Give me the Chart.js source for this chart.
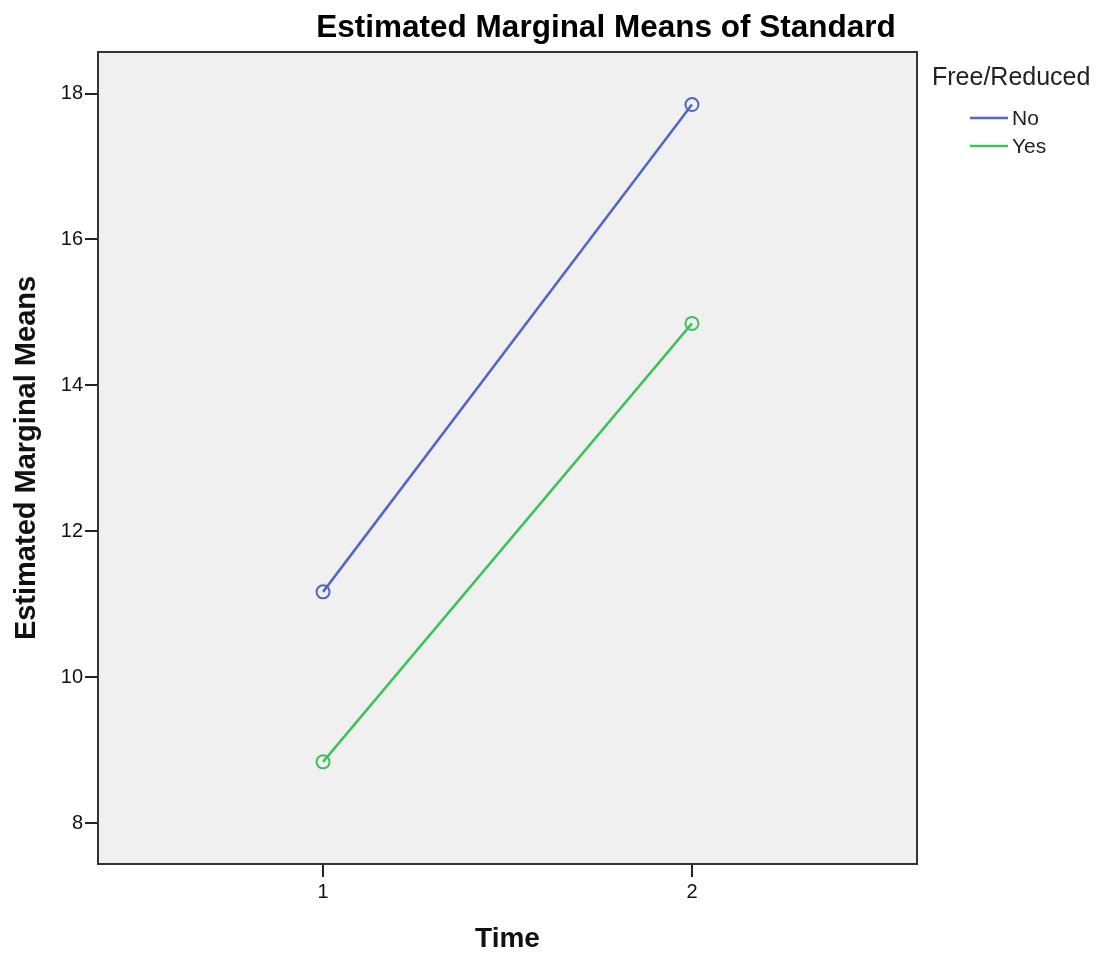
<!DOCTYPE html>
<html>
<head>
<meta charset="utf-8">
<script src="https://cdn.jsdelivr.net/npm/chart.js@4.4.1/dist/chart.umd.min.js"></script>
<style>
  html, body { margin: 0; padding: 0; background: #fff; }
  #wrap { width: 1099px; height: 958px; position: relative; }
</style>
</head>
<body>
<div id="wrap"><canvas id="c" width="1099" height="958"></canvas></div>
<script>
// ---- data ----
const chartTitle = "Estimated Marginal Means of Standard";
const legendTitle = "Free/Reduced";
const timePoints = [1, 2];
const seriesNames = ["No", "Yes"];
const noValues = [11.17, 17.85];
const yesValues = [8.84, 14.85];
const yTickValues = [8, 10, 12, 14, 16, 18];
const xTickValues = [1, 2];
const seriesColors = ["#5266c4", "#3ec159"];

const FONT = "'Liberation Sans', Arial, sans-serif";

function toPoints(vals) {
  return timePoints.map((t, i) => ({ x: t, y: vals[i] }));
}

const plotFrame = {
  id: 'plotFrame',
  beforeDraw(chart) {
    const a = chart.chartArea, ctx = chart.ctx;
    ctx.save();
    ctx.fillStyle = '#f0f0f0';
    ctx.fillRect(a.left, a.top, a.right - a.left, a.bottom - a.top);
    ctx.restore();
  },
  afterDraw(chart) {
    const a = chart.chartArea, ctx = chart.ctx;
    ctx.save();
    ctx.strokeStyle = '#333';
    ctx.lineWidth = 2;
    ctx.strokeRect(a.left, a.top, a.right - a.left, a.bottom - a.top);
    // title
    ctx.fillStyle = '#000';
    ctx.font = "bold 31.5px " + FONT;
    ctx.textAlign = 'center';
    ctx.textBaseline = 'middle';
    ctx.fillText(chartTitle, 606, 28);
    // legend
    ctx.font = "25px " + FONT;
    ctx.textAlign = 'left';
    ctx.fillStyle = '#222';
    ctx.fillText(legendTitle, 932, 78);
    ctx.font = "21px " + FONT;
    chart.data.datasets.forEach((ds, i) => {
      const y = 118 + i * 28;
      ctx.strokeStyle = ds.borderColor;
      ctx.lineWidth = 2.5;
      ctx.beginPath();
      ctx.moveTo(970, y);
      ctx.lineTo(1008, y);
      ctx.stroke();
      ctx.fillStyle = '#222';
      ctx.fillText(ds.label, 1012, y + 1);
    });
    ctx.restore();
  }
};

new Chart(document.getElementById('c'), {
  type: 'line',
  data: {
    datasets: [
      { label: seriesNames[0], data: toPoints(noValues), borderColor: seriesColors[0], backgroundColor: 'transparent',
        borderWidth: 2.5, pointRadius: 6.5, pointBorderWidth: 2, pointBackgroundColor: 'transparent', pointBorderColor: seriesColors[0] },
      { label: seriesNames[1], data: toPoints(yesValues), borderColor: seriesColors[1], backgroundColor: 'transparent',
        borderWidth: 2.5, pointRadius: 6.5, pointBorderWidth: 2, pointBackgroundColor: 'transparent', pointBorderColor: seriesColors[1] }
    ]
  },
  options: {
    responsive: false,
    animation: false,
    layout: { padding: { left: 0, right: 182, top: 52, bottom: 0 } },
    plugins: { legend: { display: false }, title: { display: false }, tooltip: { enabled: false } },
    scales: {
      x: {
        type: 'linear',
        min: 0.39, max: 2.61,
        afterFit(s) { s.height = 94; },
        afterBuildTicks(s) { s.ticks = xTickValues.map(v => ({ value: v })); },
        grid: { display: true, drawOnChartArea: false, drawTicks: true, tickLength: 13, color: '#222', lineWidth: 2 },
        border: { display: false },
        ticks: { font: { family: FONT, size: 20 }, color: '#111', padding: 3, callback: v => String(v) },
        title: { display: true, text: 'Time', font: { family: FONT, size: 28, weight: 'bold' }, color: '#111', padding: { top: 0, bottom: 2 } }
      },
      y: {
        type: 'linear',
        min: 7.44, max: 18.57,
        afterFit(s) { s.width = 98; },
        afterBuildTicks(s) { s.ticks = yTickValues.map(v => ({ value: v })); },
        grid: { display: true, drawOnChartArea: false, drawTicks: true, tickLength: 13, color: '#222', lineWidth: 2 },
        border: { display: false },
        ticks: { font: { family: FONT, size: 20 }, color: '#111', padding: 2, callback: v => String(v) },
        title: { display: true, text: 'Estimated Marginal Means', font: { family: FONT, size: 29, weight: 'bold' }, color: '#111', padding: { top: 10, bottom: 0 } }
      }
    }
  },
  plugins: [plotFrame]
});
</script>
</body>
</html>
